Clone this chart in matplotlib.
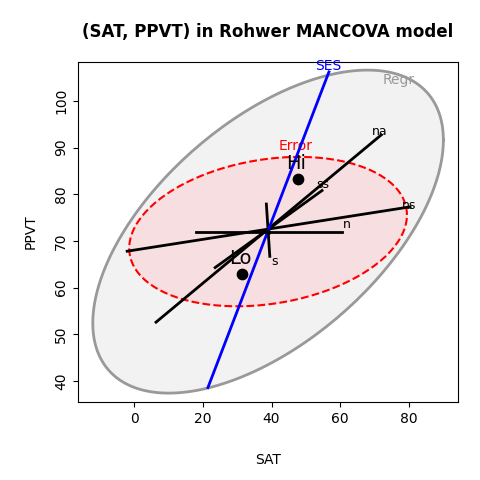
import numpy as np
import matplotlib.pyplot as plt

# group means and grand mean
center = (39.0, 72.0)
groups = ['Hi', 'Lo']
group_x = [47.7, 31.4]
group_y = [83.3, 63.0]

# ellipse shapes (var x, cov, var y) about the grand mean
ell_names = ['Regr', 'Error']
ell_shapes = [(2601.0, 1000.0, 1197.0), (1632.0, 144.0, 256.0)]

# hypothesis lines for each predictor (degenerate ellipses)
pred_names = ['na', 'ns', 'ss', 'n', 's']
pred_x0 = [6.4, -2.0, 23.6, 18.0, 38.5]
pred_y0 = [52.6, 67.8, 64.3, 72.0, 77.9]
pred_x1 = [71.9, 80.3, 54.7, 60.5, 39.5]
pred_y1 = [92.7, 77.3, 80.8, 72.0, 66.7]

ses_x = [21.5, 56.7]
ses_y = [38.6, 106.2]

fig = plt.figure(figsize=(4.8, 4.8), dpi=100)
ax = fig.add_axes([0.1625, 0.1625, 0.792, 0.709])

t = np.linspace(0, 2 * np.pi, 200)
circ = np.vstack([np.cos(t), np.sin(t)])
for name, (a, b, c) in zip(ell_names, ell_shapes):
    L = np.linalg.cholesky(np.array([[a, b], [b, c]]))
    pts = L @ circ
    ex, ey = pts[0] + center[0], pts[1] + center[1]
    if name == 'Regr':
        ax.fill(ex, ey, color='#f2f2f2', zorder=1)
        ax.plot(ex, ey, color='#999999', lw=2, zorder=2)
    else:
        ax.fill(ex, ey, color='#f9d9dc', alpha=0.8, zorder=3)
        ax.plot(ex, ey, color='red', lw=1.5, ls='--', zorder=4)

ax.text(77, 104.5, 'Regr', color='#999999', fontsize=10, ha='center', va='center')
ax.text(47, 90.3, 'Error', color='red', fontsize=10, ha='center', va='center')

for name, x0, y0, x1, y1 in zip(pred_names, pred_x0, pred_y0, pred_x1, pred_y1):
    ax.plot([x0, x1], [y0, y1], color='black', lw=2, zorder=5)
lab_pos = {'na': (71.5, 93.5), 'ns': (80, 77.5), 'ss': (55, 82), 'n': (62, 73.5), 's': (41, 65.5)}
for name in pred_names:
    ax.text(*lab_pos[name], name, fontsize=9, ha='center', va='center', zorder=7)

ax.plot(ses_x, ses_y, color='blue', lw=2, zorder=6)
ax.text(56.5, 107.5, 'SES', color='blue', fontsize=10, ha='center', va='center')

ax.scatter(group_x, group_y, s=55, color='black', zorder=8)
ax.scatter([center[0]], [center[1]], s=8, color='black', zorder=8)
for g, x, y in zip(groups, group_x, group_y):
    ax.text(x - 0.5, y + 3.3, g, fontsize=14, ha='center', va='center', zorder=9)

ax.set_xlim(-16.3, 94.3)
ax.set_ylim(35.5, 108.4)
ax.set_xticks([0, 20, 40, 60, 80])
ax.set_yticks([40, 50, 60, 70, 80, 90, 100])
ax.tick_params(axis='y', labelrotation=90)
for lbl in ax.get_yticklabels():
    lbl.set_va('center')
ax.set_xlabel('SAT', labelpad=20)
ax.set_ylabel('PPVT', labelpad=12)
ax.set_title('(SAT, PPVT) in Rohwer MANCOVA model', fontweight='bold', fontsize=12, pad=18)

fig.savefig('out.png', dpi=100)
